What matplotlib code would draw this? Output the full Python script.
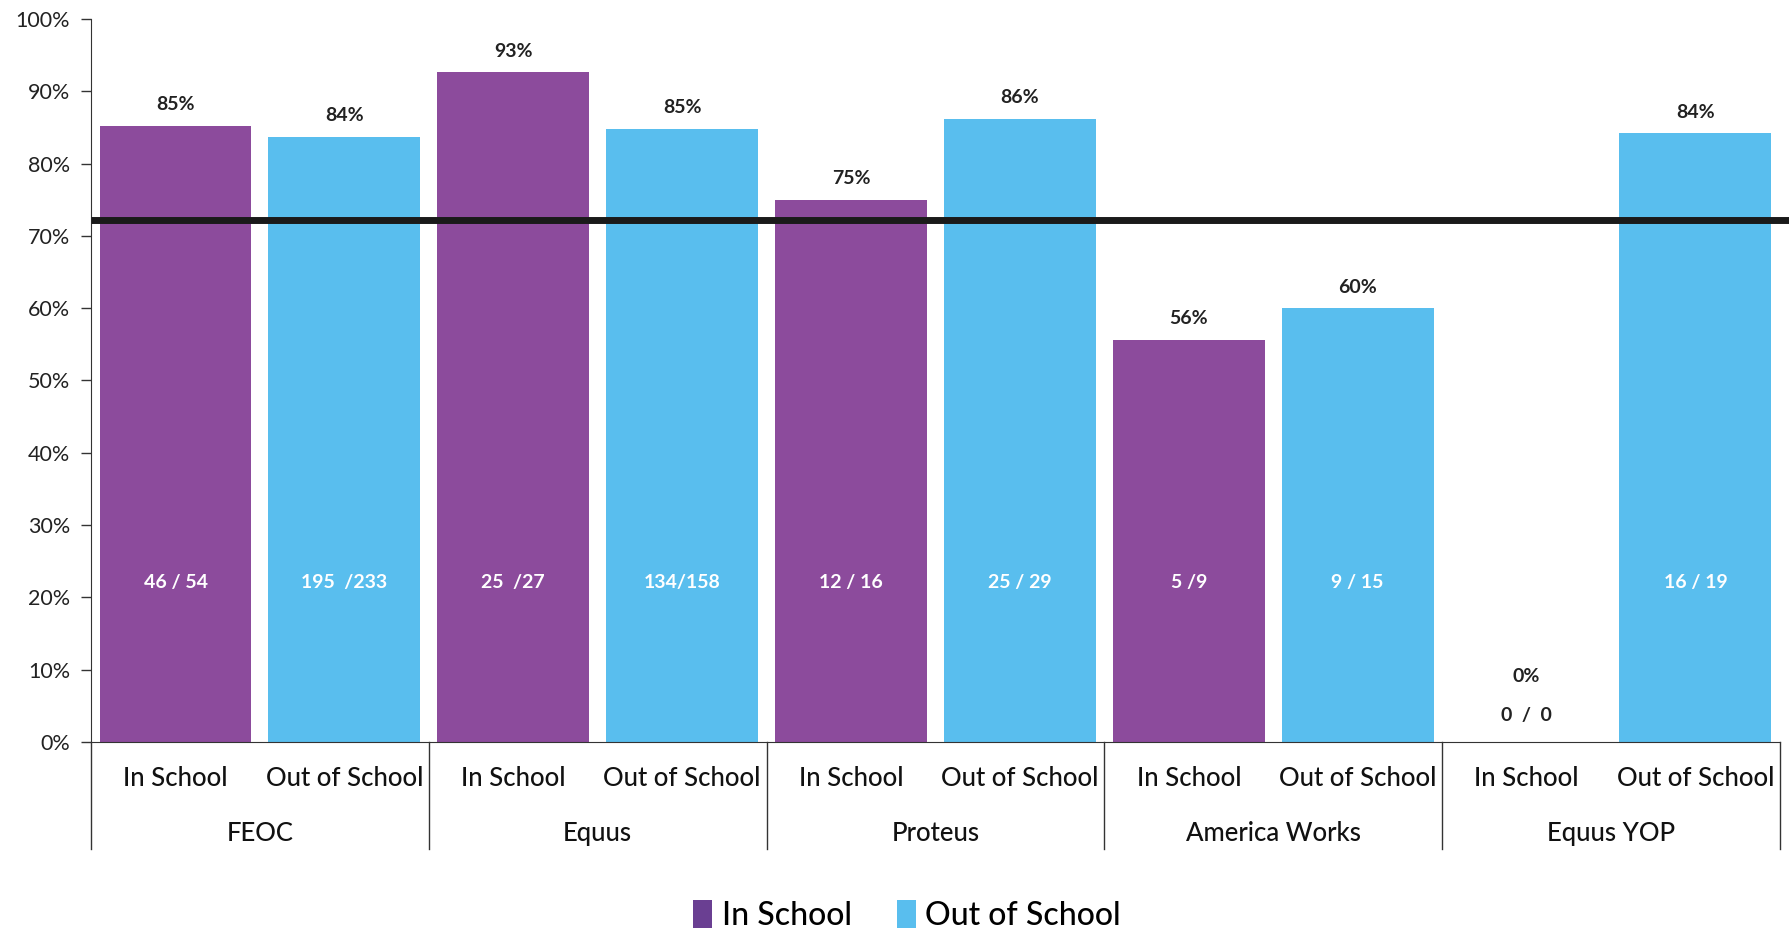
import matplotlib
matplotlib.use("Agg")
import matplotlib.pyplot as plt
from matplotlib.patches import Patch
import matplotlib.transforms as mtransforms

plt.rcParams['font.family'] = ['Lato', 'DejaVu Sans']

groups = ["FEOC", "Equus", "Proteus", "America Works", "Equus YOP"]
subcats = ["In School", "Out of School"]
in_school = [85.2, 92.6, 75.0, 55.6, 0.0]
out_school = [83.7, 84.8, 86.2, 60.0, 84.2]
in_pct_labels = ["85%", "93%", "75%", "56%", "0%"]
out_pct_labels = ["84%", "85%", "86%", "60%", "84%"]
in_counts = ["46 / 54", "25  /27", "12 / 16", "5 /9", "0  /  0"]
out_counts = ["195  /233", "134/158", "25 / 29", "9 / 15", "16 / 19"]
benchmark = 72.2
yticks = list(range(0, 101, 10))

purple = "#8c4b9c"
blue = "#59beee"

fig = plt.figure(figsize=(17.89, 9.39), dpi=100)
ax = fig.add_axes([0.0509, 0.2098, 0.944, 0.770])

lab_kw = dict(fontsize=14, fontweight="bold")
for i in range(len(groups)):
    xi = 2 * i
    xo = 2 * i + 1
    ax.bar(xi, in_school[i], width=0.9, color=purple, zorder=2)
    ax.bar(xo, out_school[i], width=0.9, color=blue, zorder=2)
    if in_school[i] > 0:
        ax.annotate(in_pct_labels[i], (xi, in_school[i]), xytext=(0, 9), textcoords="offset points",
                    ha="center", va="bottom", color="#222222", **lab_kw)
        ax.text(xi, 22, in_counts[i], ha="center", va="center", color="white", zorder=3, **lab_kw)
    else:
        ax.text(xi, 9, in_pct_labels[i], ha="center", va="center", color="#222222", **lab_kw)
        ax.text(xi, 3.7, in_counts[i], ha="center", va="center", color="#222222", **lab_kw)
    ax.annotate(out_pct_labels[i], (xo, out_school[i]), xytext=(0, 9), textcoords="offset points",
                ha="center", va="bottom", color="#222222", **lab_kw)
    ax.text(xo, 22, out_counts[i], ha="center", va="center", color="white", zorder=3, **lab_kw)

ax.axhline(benchmark, xmin=0, xmax=1.02, color="#1a1a1a", lw=5, zorder=4, clip_on=False,
           solid_capstyle="butt")

ax.set_xlim(-0.5, 2 * len(groups) - 0.5)
ax.set_ylim(0, 100)
ax.set_yticks(yticks)
ax.set_yticklabels([f"{t}%" for t in yticks], fontsize=15.5, color="#222222")
ax.tick_params(axis="y", direction="out", length=7, width=1, color="#333333", pad=8)
ax.set_xticks([])
for s in ["top", "right"]:
    ax.spines[s].set_visible(False)
ax.spines["left"].set_color("#333333")
ax.spines["bottom"].set_color("#333333")

trans = mtransforms.blended_transform_factory(ax.transData, ax.transAxes)
for b in range(len(groups) + 1):
    xb = 2 * b - 0.5
    ax.plot([xb, xb], [0, -0.148], transform=trans, color="#333333", lw=1, clip_on=False)
cat_kw = dict(fontsize=18.5, color="#111111", fontweight="medium")
for i, g in enumerate(groups):
    ax.text(2 * i, -0.05, subcats[0], transform=trans, ha="center", va="center", **cat_kw)
    ax.text(2 * i + 1, -0.05, subcats[1], transform=trans, ha="center", va="center", **cat_kw)
    ax.text(2 * i + 0.5, -0.126, g, transform=trans, ha="center", va="center", **cat_kw)

handles = [Patch(facecolor="#6a3f92", label=subcats[0]), Patch(facecolor=blue, label=subcats[1])]
fig.legend(handles=handles, loc="center", bbox_to_anchor=(0.507, 0.025), ncol=2, frameon=False,
           prop={"family": ["Lato", "DejaVu Sans"], "size": 23, "weight": "medium"},
           handlelength=0.6, handleheight=1.0, handletextpad=0.3, columnspacing=1.4)

fig.savefig("out.png", dpi=100)
